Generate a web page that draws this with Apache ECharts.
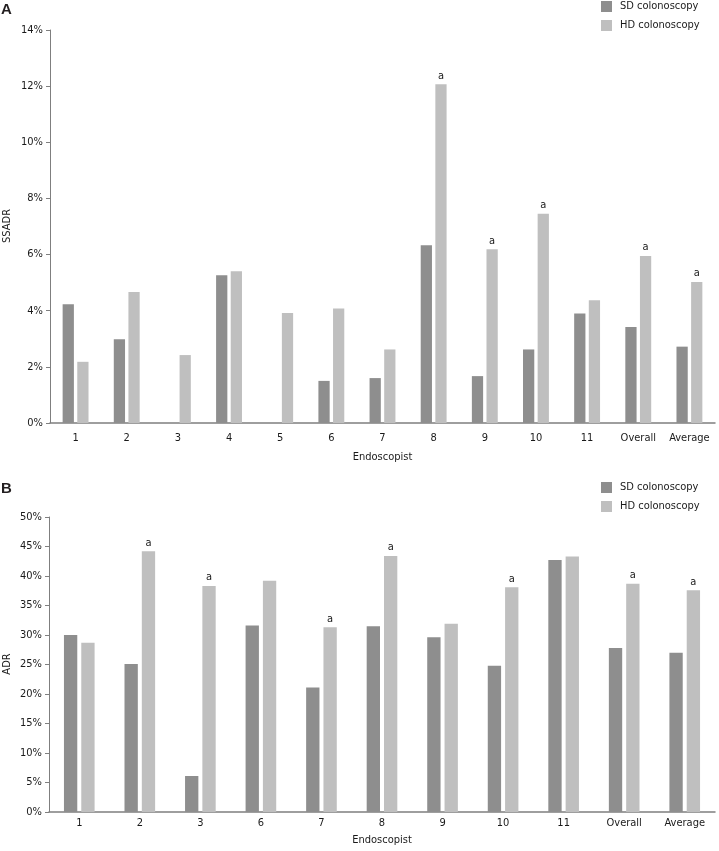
<!DOCTYPE html>
<html>
<head>
<meta charset="utf-8">
<script src="https://cdn.jsdelivr.net/npm/echarts@6/dist/echarts.min.js"></script>
<style>
html,body{margin:0;padding:0;background:#fff;}
#chart{width:719px;height:851px;}
</style>
</head>
<body>
<div id="chart"></div>
<script>
// Panel A: SSADR
var catsA = ['1','2','3','4','5','6','7','8','9','10','11','Overall','Average'];
var sdA = [4.23, 2.98, 0, 5.26, 0, 1.50, 1.60, 6.33, 1.67, 2.62, 3.90, 3.42, 2.72];
var hdA = [2.18, 4.67, 2.42, 5.41, 3.92, 4.08, 2.62, 12.07, 6.19, 7.45, 4.37, 5.95, 5.02];
var sigA = [0,0,0,0,0,0,0,1,1,1,0,1,1];
var ticksA = [0, 2, 4, 6, 8, 10, 12, 14];

// Panel B: ADR
var catsB = ['1','2','3','6','7','8','9','10','11','Overall','Average'];
var sdB = [30.0, 25.1, 6.1, 31.6, 21.1, 31.5, 29.6, 24.8, 42.7, 27.8, 27.0];
var hdB = [28.7, 44.2, 38.3, 39.2, 31.3, 43.4, 31.9, 38.1, 43.3, 38.7, 37.6];
var sigB = [0,1,1,0,1,1,0,1,0,1,1];
var ticksB = [0, 5, 10, 15, 20, 25, 30, 35, 40, 45, 50];

var seriesNames = ['SD colonoscopy', 'HD colonoscopy'];
var yNames = ['SSADR', 'ADR'];

var FONT = '"DejaVu Sans Condensed", "DejaVu Sans", sans-serif';
var SD_COLOR = '#8e8e8e';
var HD_COLOR = '#bfbfbf';
var AXIS_COLOR = '#7f7f7f';
var TXT = '#1a1a1a';

function yAxis(idx, ticks) {
  return {
    type: 'value', gridIndex: idx,
    min: ticks[0], max: ticks[ticks.length - 1], interval: ticks[1] - ticks[0],
    axisLine: {show: true, lineStyle: {color: AXIS_COLOR, width: 1}},
    axisTick: {show: true, length: 4, lineStyle: {color: AXIS_COLOR}},
    axisLabel: {formatter: '{value}%', fontFamily: FONT, fontSize: 11, color: TXT, margin: 7},
    splitLine: {show: false}
  };
}
function xAxis(idx, cats, labelMargin, nameGap) {
  return {
    type: 'category', gridIndex: idx, data: cats,
    name: 'Endoscopist', nameLocation: 'middle', nameGap: nameGap,
    nameTextStyle: {fontFamily: FONT, fontSize: 11, color: TXT},
    axisLine: {show: true, lineStyle: {color: AXIS_COLOR, width: 1.5}},
    axisTick: {show: false},
    axisLabel: {fontFamily: FONT, fontSize: 11, color: TXT, margin: labelMargin, interval: 0}
  };
}
function sigLabel(flags) {
  return {
    show: true, position: 'top', distance: 3,
    fontFamily: FONT, fontSize: 11, color: TXT,
    formatter: function (p) { return flags[p.dataIndex] ? 'a' : ''; }
  };
}
function bars(name, data, color, xi, yi, flags) {
  var s = {
    name: name, type: 'bar', xAxisIndex: xi, yAxisIndex: yi, data: data,
    barWidth: '22%', barGap: '30%',
    itemStyle: {color: color},
    emphasis: {disabled: true}, animation: false
  };
  if (flags) s.label = sigLabel(flags);
  return s;
}
function legend(top) {
  return {
    top: top, left: 601, orient: 'vertical', itemGap: 8, padding: 0,
    itemWidth: 11, itemHeight: 11, icon: 'rect',
    textStyle: {fontFamily: FONT, fontSize: 11, color: TXT, padding: [0, 0, 0, 3]},
    data: seriesNames, selectedMode: false
  };
}
function yName(text, cy) {
  return {
    type: 'text', x: 7, y: cy, rotation: Math.PI / 2,
    style: {text: text, font: '11px ' + FONT, fill: TXT, align: 'center', verticalAlign: 'middle'}
  };
}

var chart = echarts.init(document.getElementById('chart'), null, {renderer: 'canvas'});
chart.setOption({
  backgroundColor: '#fff',
  animation: false,
  graphic: [
    {type: 'text', left: 1, top: 2, style: {text: 'A', font: 'bold 15px "Liberation Sans", Arial, sans-serif', fill: '#231f20'}},
    {type: 'text', left: 1, top: 481, style: {text: 'B', font: 'bold 15px "Liberation Sans", Arial, sans-serif', fill: '#231f20'}},
    yName(yNames[0], 226),
    yName(yNames[1], 664)
  ],
  legend: [legend(1), legend(482)],
  grid: [
    {left: 50, right: 4, top: 30, height: 393, containLabel: false, outerBoundsMode: 'none'},
    {left: 49, right: 4, top: 517, height: 295, containLabel: false, outerBoundsMode: 'none'}
  ],
  xAxis: [xAxis(0, catsA, 10, 29), xAxis(1, catsB, 6, 23)],
  yAxis: [yAxis(0, ticksA), yAxis(1, ticksB)],
  series: [
    bars(seriesNames[0], sdA, SD_COLOR, 0, 0, null),
    bars(seriesNames[1], hdA, HD_COLOR, 0, 0, sigA),
    bars(seriesNames[0], sdB, SD_COLOR, 1, 1, null),
    bars(seriesNames[1], hdB, HD_COLOR, 1, 1, sigB)
  ]
});
</script>
</body>
</html>
